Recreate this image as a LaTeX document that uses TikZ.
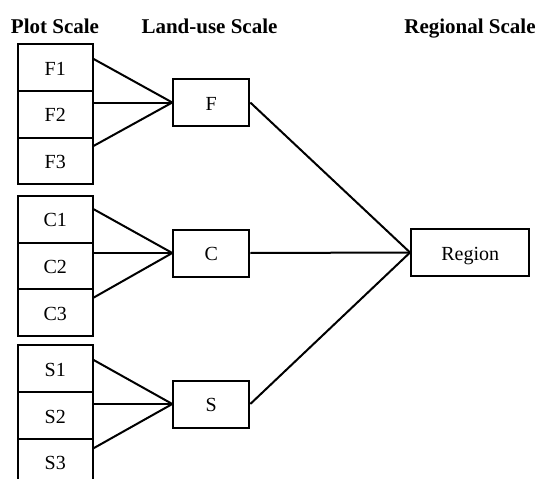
\documentclass[tikz,border=0pt]{standalone}
\usepackage{fontspec}
\setmainfont{Liberation Serif}
\begin{document}
\begin{tikzpicture}[x=1pt,y=-1pt,
  plotbox/.style={draw,line width=2pt,minimum width=74.7pt,minimum height=46.7pt,inner sep=0pt,
    text height=15.5pt,text depth=0pt,font=\fontsize{20}{24}\selectfont},
  usebox/.style={plotbox,minimum width=76pt,minimum height=47pt},
  regbox/.style={plotbox,minimum width=118.3pt,minimum height=47pt},
  header/.style={anchor=base,inner sep=0pt,font=\fontsize{21}{25}\selectfont\bfseries},
  link/.style={line width=2pt}]
\useasboundingbox (0,0) rectangle (539,479);
% headers
\node[header] (hplot) at (55,33) {Plot Scale};
\node[header] (hland) at (209.5,33) {Land-use Scale};
\node[header] (hreg) at (470,33) {Regional Scale};
% plot boxes
\node[plotbox] (F1) at (55.3,67.5) {F1};
\node[plotbox] (F2) at (55.3,114.2) {F2};
\node[plotbox] (F3) at (55.3,160.9) {F3};
\node[plotbox] (C1) at (55.3,219.2) {C1};
\node[plotbox] (C2) at (55.3,265.9) {C2};
\node[plotbox] (C3) at (55.3,312.6) {C3};
\node[plotbox] (S1) at (55.3,368.8) {S1};
\node[plotbox] (S2) at (55.3,415.5) {S2};
\node[plotbox] (S3) at (55.3,462.2) {S3};
% land-use boxes
\node[usebox] (F) at (211.3,102.5) {F};
\node[usebox] (C) at (211.3,253) {C};
\node[usebox] (S) at (211.3,404) {S};
% region
\node[regbox] (R) at (470.2,252.5) {Region};
% connectors
\draw[link] ([yshift=8.5pt]F1.east) -- (F.west);
\draw[link] (F2.east |- F.west) -- (F.west);
\draw[link] ([yshift=15pt]F3.east) -- (F.west);
\draw[link] ([yshift=10pt]C1.east) -- (C.west);
\draw[link] (C2.east |- C.west) -- (C.west);
\draw[link] ([yshift=15pt]C3.east) -- (C.west);
\draw[link] ([yshift=8.8pt]S1.east) -- (S.west);
\draw[link] (S2.east |- S.west) -- (S.west);
\draw[link] ([yshift=14pt]S3.east) -- (S.west);
\draw[link] (F.east) -- (R.west);
\draw[link] (C.east) -- (R.west);
\draw[link] (S.east) -- (R.west);
\end{tikzpicture}
\end{document}
